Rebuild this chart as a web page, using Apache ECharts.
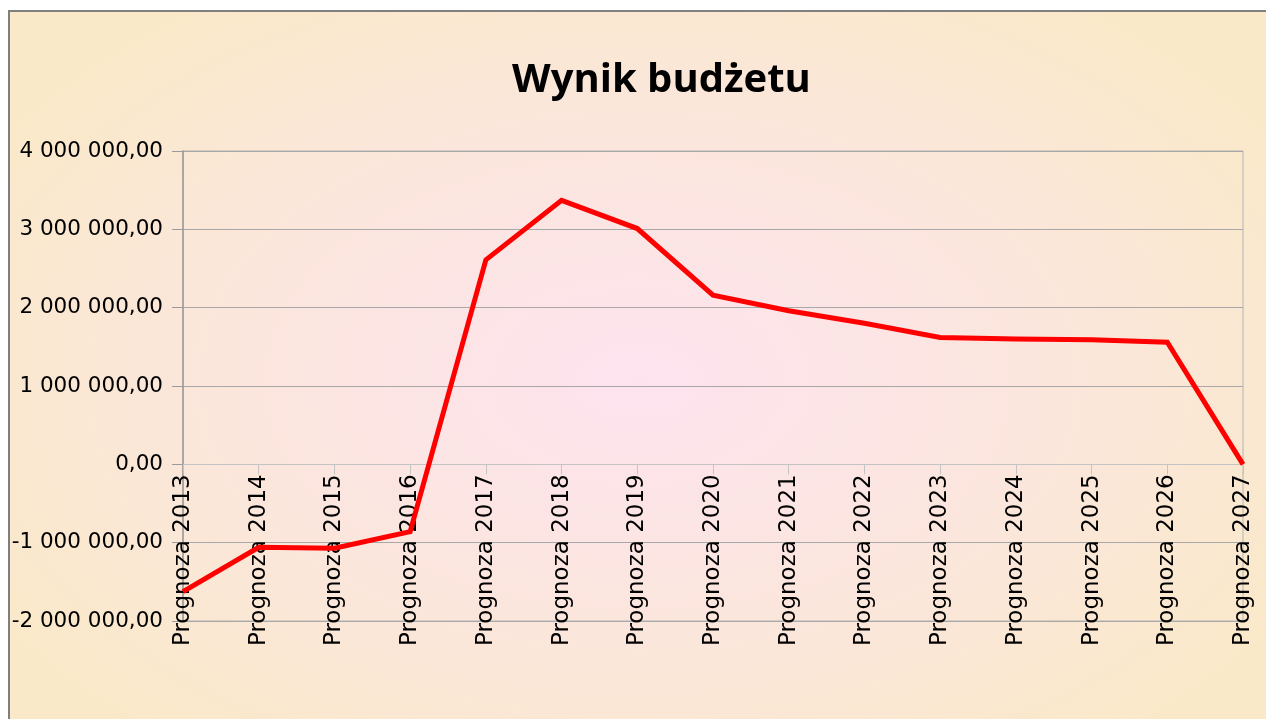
<!DOCTYPE html>
<html>
<head>
<meta charset="utf-8">
<script src="https://cdn.jsdelivr.net/npm/echarts@6/dist/echarts.min.js"></script>
<style>
  html, body { margin: 0; padding: 0; background: #fff; }
  #frame {
    position: absolute; left: 8px; top: 10px; width: 1258px; height: 709px;
    border-left: 2px solid #7f7f7f; border-top: 2px solid #7f7f7f;
    background: radial-gradient(ellipse 60% 65% at 50% 52%, #fde3ef 0%, #fbe6dc 55%, #fae9c9 100%);
  }
  #chart { position: absolute; left: 0; top: 0; width: 1266px; height: 719px; }
</style>
</head>
<body>
<div id="frame"></div>
<div id="chart"></div>
<script>
// dane wykresu
var categories = ['Prognoza 2013', 'Prognoza 2014', 'Prognoza 2015', 'Prognoza 2016', 'Prognoza 2017',
  'Prognoza 2018', 'Prognoza 2019', 'Prognoza 2020', 'Prognoza 2021', 'Prognoza 2022',
  'Prognoza 2023', 'Prognoza 2024', 'Prognoza 2025', 'Prognoza 2026', 'Prognoza 2027']
var wynik = [-1625000, -1060000, -1070000, -860000, 2610000,
  3370000, 3010000, 2160000, 1960000, 1800000,
  1620000, 1600000, 1590000, 1560000, 0]
var yMin = -2000000
var yMax = 4000000
var yStep = 1000000

function formatPl(v) {
  var s = Math.abs(v).toFixed(0).replace(/\B(?=(\d{3})+(?!\d))/g, ' ')
  return (v < 0 ? '-' : '') + s + ',00'
}

var gridTop = 151
var gridBottom = 98
var plotHeight = 719 - gridTop - gridBottom
// oś kategorii przesunięta na poziom zera
var zeroOffset = plotHeight * (0 - yMin) / (yMax - yMin)

var chart = echarts.init(document.getElementById('chart'))
chart.setOption({
  backgroundColor: 'transparent',
  animation: false,
  title: {
    text: 'Wynik budżetu',
    left: 507,
    top: 56,
    textStyle: { fontFamily: 'Open Sans', fontWeight: 'bold', fontSize: 40, color: '#000' }
  },
  grid: {
    left: 183,
    right: 23,
    top: gridTop,
    bottom: gridBottom,
    outerBoundsMode: 'none',
    containLabel: false,
    show: true,
    borderColor: '#b4b4b4',
    borderWidth: 1,
    backgroundColor: 'transparent'
  },
  xAxis: {
    type: 'category',
    data: categories,
    boundaryGap: false,
    offset: -zeroOffset,
    axisLine: { onZero: false, lineStyle: { color: '#c4c4c4', width: 1 } },
    axisTick: { show: true, length: 10, lineStyle: { color: '#c4c4c4' } },
    axisLabel: {
      interval: 0,
      rotate: 90,
      margin: 10,
      fontFamily: 'DejaVu Sans',
      fontSize: 23,
      color: '#000'
    },
    splitLine: { show: false }
  },
  yAxis: {
    type: 'value',
    min: yMin,
    max: yMax,
    interval: yStep,
    axisLine: { show: true, lineStyle: { color: '#9a9a9a', width: 1.5 } },
    axisTick: { show: true, length: 11, lineStyle: { color: '#9a9a9a' } },
    axisLabel: {
      margin: 20,
      fontFamily: 'DejaVu Sans',
      fontSize: 21.5,
      color: '#000',
      formatter: formatPl
    },
    splitLine: { show: true, lineStyle: { color: '#a8a8a8', width: 1 } }
  },
  series: [{
    name: 'Wynik budżetu',
    type: 'line',
    data: wynik,
    showSymbol: false,
    symbol: 'none',
    z: 5,
    lineStyle: { color: '#ff0000', width: 5, join: 'miter' }
  }]
})
</script>
</body>
</html>
